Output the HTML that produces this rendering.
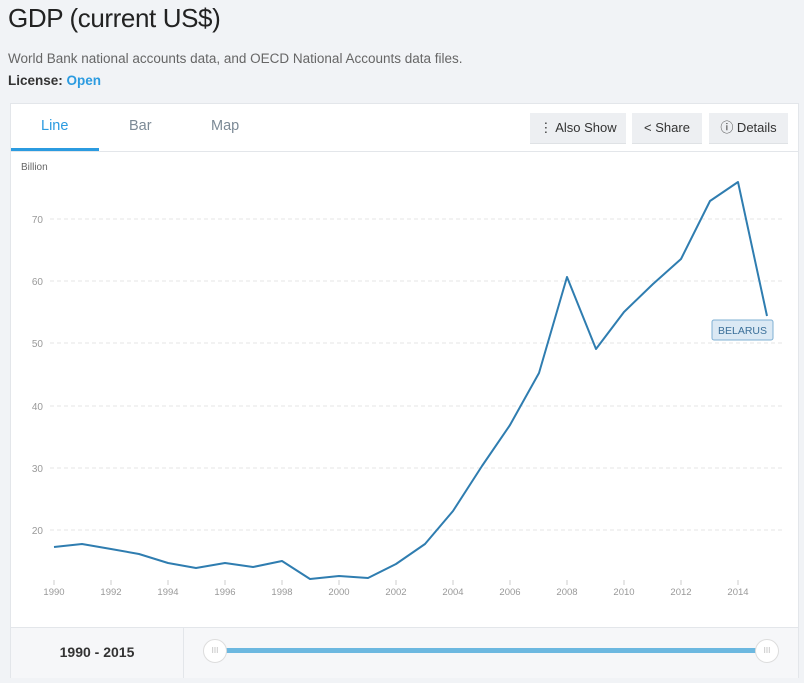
<!DOCTYPE html>
<html><head><style>
body{margin:0;width:804px;height:683px;background:#f1f3f6;font-family:"Liberation Sans",sans-serif;position:relative;overflow:hidden}
.t{position:absolute;left:8px;top:3px;font-size:26px;color:#222;letter-spacing:-0.4px}
.s{position:absolute;left:8px;top:51px;font-size:13.5px;color:#666}
.l{position:absolute;left:8px;top:73px;font-size:13.5px;color:#333;font-weight:bold}
.l span{color:#2b9be0}
.card{position:absolute;left:10px;top:103px;width:787px;height:573px;background:#fff;border:1px solid #e3e6ea}
.tab{position:absolute;top:14px;font-size:14.5px;color:#7c8a96}
.btn{position:absolute;top:9px;height:30px;background:#edeff2;font-size:13px;color:#333;line-height:30px;text-align:center;border-bottom:1px solid #dfe2e5}
.bot{position:absolute;left:0;top:523px;width:787px;height:50px;background:#f6f7f9;border-top:1px solid #e3e6ea}
</style></head><body>
<div class="t">GDP (current US$)</div>
<div class="s">World Bank national accounts data, and OECD National Accounts data files.</div>
<div class="l">License: <span>Open</span></div>
<div class="card">
<div class="tab" style="left:30px;color:#2b9be0">Line</div>
<div class="tab" style="left:118px">Bar</div>
<div class="tab" style="left:200px">Map</div>
<div style="position:absolute;left:0;top:44px;width:88px;height:3px;background:#2b9be0"></div>
<div style="position:absolute;left:0;top:47px;width:787px;height:1px;background:#e3e6ea"></div>
<div class="btn" style="left:519px;width:96px">⋮ Also Show</div>
<div class="btn" style="left:621px;width:70px">&lt; Share</div>
<div class="btn" style="left:698px;width:79px">ⓘ Details</div>
<div class="bot">
<div style="position:absolute;left:172px;top:0;width:1px;height:50px;background:#e3e6ea"></div>
<div style="position:absolute;left:0;width:172px;top:16px;text-align:center;font-size:14px;font-weight:bold;color:#333">1990 - 2015</div>
<div style="position:absolute;left:205px;top:20px;width:550px;height:5px;background:#6cb8e0"></div>
<div style="position:absolute;left:192px;top:11px;width:22px;height:22px;border-radius:50%;background:#fff;border:1px solid #ddd;font-size:8px;color:#bbb;text-align:center;line-height:22px">III</div>
<div style="position:absolute;left:744px;top:11px;width:22px;height:22px;border-radius:50%;background:#fff;border:1px solid #ddd;font-size:8px;color:#bbb;text-align:center;line-height:22px">III</div>
</div>
</div>
<svg width="804" height="683" style="position:absolute;left:0;top:0" font-family="Liberation Sans, sans-serif">
<text x="21" y="170" font-size="10" fill="#666">Billion</text>
<g stroke="#e6e6e6" stroke-dasharray="4,3">
<line x1="50" x2="785" y1="219" y2="219"/><line x1="50" x2="785" y1="281" y2="281"/><line x1="50" x2="785" y1="343" y2="343"/><line x1="50" x2="785" y1="406" y2="406"/><line x1="50" x2="785" y1="468" y2="468"/><line x1="50" x2="785" y1="530" y2="530"/></g>
<g font-size="10" fill="#999" text-anchor="end">
<text x="43" y="223">70</text><text x="43" y="285">60</text><text x="43" y="347">50</text><text x="43" y="410">40</text><text x="43" y="472">30</text><text x="43" y="534">20</text></g>
<g stroke="#ccc">
<line x1="54" x2="54" y1="580" y2="585"/><line x1="111" x2="111" y1="580" y2="585"/><line x1="168" x2="168" y1="580" y2="585"/><line x1="225" x2="225" y1="580" y2="585"/><line x1="282" x2="282" y1="580" y2="585"/><line x1="339" x2="339" y1="580" y2="585"/><line x1="396" x2="396" y1="580" y2="585"/><line x1="453" x2="453" y1="580" y2="585"/><line x1="510" x2="510" y1="580" y2="585"/><line x1="567" x2="567" y1="580" y2="585"/><line x1="624" x2="624" y1="580" y2="585"/><line x1="681" x2="681" y1="580" y2="585"/><line x1="738" x2="738" y1="580" y2="585"/></g>
<g font-size="9.5" fill="#999" text-anchor="middle">
<text x="54" y="595">1990</text><text x="111" y="595">1992</text><text x="168" y="595">1994</text><text x="225" y="595">1996</text><text x="282" y="595">1998</text><text x="339" y="595">2000</text><text x="396" y="595">2002</text><text x="453" y="595">2004</text><text x="510" y="595">2006</text><text x="567" y="595">2008</text><text x="624" y="595">2010</text><text x="681" y="595">2012</text><text x="738" y="595">2014</text></g>
<polyline fill="none" stroke="#2f7db0" stroke-width="2" stroke-linejoin="round" points="54,547 82,544 111,549 139,554 168,563 196,568 225,563 253,567 282,561 310,579 339,576 368,578 396,564 425,544 453,511 482,466 510,425 539,373 567,277 596,349 624,312 653,284 681,259 710,201 738,182 767,316"/>
<rect x="712" y="320" width="61" height="20" rx="2" fill="#dbe9f4" stroke="#7fb0d3"/>
<text x="742.5" y="334" font-size="10.5" fill="#3a6f99" text-anchor="middle">BELARUS</text>
</svg>
</body></html>
